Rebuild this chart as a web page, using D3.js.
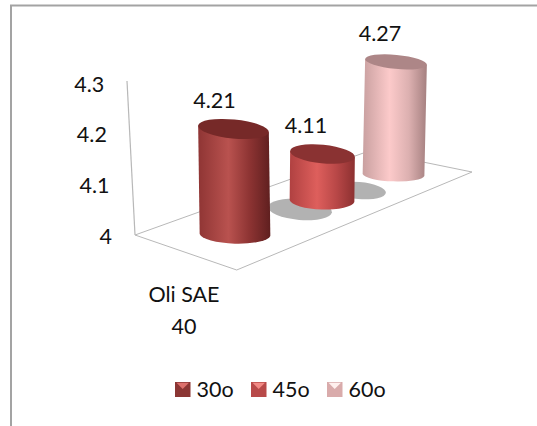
<!DOCTYPE html>
<html>
<head>
<meta charset="utf-8">
<script src="https://cdn.jsdelivr.net/npm/d3@7"></script>
<style>
html,body{margin:0;padding:0;background:#fff}
svg{display:block}
text{font-family:Lato,"Open Sans",sans-serif;fill:#111}
</style>
</head>
<body>
<svg id="chart" width="537" height="426"></svg>
<script>
// Chart values
const categoryLines = ["Oli SAE", "40"];
const seriesNames = ["30o", "45o", "60o"];
const seriesValues = [4.21, 4.11, 4.27];
const tickValues = [4, 4.1, 4.2, 4.3];

// Colour stops: cylinder wall left / highlight / shade / right, lid, legend swatch
const wallColours = [
  ["#8f3534", "#b9524f", "#8c3332", "#5f1f1f"],
  ["#b04141", "#de5f5c", "#b84747", "#8c3030"],
  ["#c9a0a0", "#fccaca", "#dcb0b0", "#a58080"]
];
const lidColours = ["#762928", "#8a3232", "#ad8687"];
const swatchColours = [["#8b3634", "#dc706c"], ["#b84a49", "#f28a85"], ["#d9abab", "#fff0ee"]];

const svg = d3.select("#chart");
const defs = svg.append("defs");
const fontSize = 21.5;

// Frame around the chart area (open on the right and at the bottom)
svg.append("path").attr("d", "M11,426V5.5H537").attr("fill", "none")
  .attr("stroke", "#a3a3a3").attr("stroke-width", 2);

// Value axis on the slanted back edge of the 3D box
const y = d3.scaleLinear().domain([4, 4.3]).range([236, 84]);
const axisX = d3.scaleLinear().domain([4, 4.3]).range([135, 127.3]);
const axisG = svg.append("g").call(
  d3.axisLeft(y).tickValues(tickValues).tickSize(0).tickFormat(d3.format("~g"))
);
axisG.select(".domain").remove();
axisG.selectAll(".tick").attr("transform", d => `translate(${axisX(d) - 23},${y(d)})`);
axisG.selectAll("text").attr("x", 0).attr("dy", "0.35em")
  .style("font-size", fontSize + "px").style("font-family", "Lato").attr("fill", "#111");

// 3D box: wall edge and floor outline
const boxLine = "#b8b8b8";
svg.append("line").attr("x1", axisX(4)).attr("y1", 235).attr("x2", 127).attr("y2", 81)
  .attr("stroke", boxLine).attr("stroke-width", 1.2);
svg.append("path").attr("d", "M135,235L236.7,270L472,172L369,151Z")
  .attr("fill", "none").attr("stroke", boxLine).attr("stroke-width", 1);

// Depth-dependent placement of the cylinders along the floor
const depth = d3.scaleOrdinal().domain(seriesNames).range([0, 1, 2]);
const baseX = d3.scaleLinear().domain([0, 1, 2]).range([235, 322, 393.5]);
const baseY = d3.scaleLinear().domain([0, 1, 2]).range([235, 201, 175]);
const lean = d3.scaleLinear().domain([0, 1, 2]).range([-1.5, 0.5, 2.5]);
const radiusX = d3.scaleLinear().domain([0, 1, 2]).range([35.5, 32.5, 31]);
const radiusY = d3.scaleLinear().domain([0, 1, 2]).range([9.5, 9.3, 7]);
const pxPerUnit = d3.scaleLinear().domain([0, 1, 2]).range([505, 427, 419]);
const labelDx = d3.scaleLinear().domain([0, 1, 2]).range([-19, -16.5, -16]);
const tilt = 5.5 * Math.PI / 180;

const bars = seriesNames.map((name, i) => {
  const d = depth(name);
  return {
    name, i, value: seriesValues[i],
    bx: baseX(d), by: baseY(d),
    tx: baseX(d) + lean(d),
    ty: baseY(d) - (seriesValues[i] - y.domain()[0]) * pxPerUnit(d),
    rx: radiusX(d), ry: radiusY(d), d
  };
});

// Floor shadows cast behind the two nearer cylinders
const shadowGroup = svg.append("g").attr("fill", "#b2b2b2");
bars.slice(0, 2).forEach(b => {
  const dx = b.i === 0 ? 65 : 37, dy = b.i === 0 ? -25.5 : -10.5;
  shadowGroup.append("ellipse")
    .attr("cx", 0).attr("cy", 0)
    .attr("rx", b.i === 0 ? 32 : 27).attr("ry", b.i === 0 ? 10.5 : 8.5)
    .attr("transform", `translate(${b.bx + dx},${b.by + dy}) rotate(5)`);
});

// Cylinders, back to front
bars.slice().reverse().forEach(b => {
  const grad = defs.append("linearGradient").attr("id", "wall" + b.i);
  [0, 0.42, 0.72, 1].forEach((o, k) =>
    grad.append("stop").attr("offset", o).attr("stop-color", wallColours[b.i][k]));

  const cos = Math.cos(tilt), sin = Math.sin(tilt), deg = tilt * 180 / Math.PI;
  const lx = b.tx - b.rx * cos, ly = b.ty - b.rx * sin;
  const rx = b.tx + b.rx * cos, ry = b.ty + b.rx * sin;
  const blx = b.bx - b.rx * cos, bly = b.by - b.rx * sin * 0.3;
  const brx = b.bx + b.rx * cos, bry = b.by + b.rx * sin * 0.3;

  svg.append("path")
    .attr("d", `M${lx},${ly}L${blx},${bly}A${b.rx},${b.ry} ${deg * 0.3} 0 0 ${brx},${bry}L${rx},${ry}Z`)
    .attr("fill", `url(#wall${b.i})`);
  svg.append("ellipse")
    .attr("rx", b.rx).attr("ry", b.ry)
    .attr("transform", `translate(${b.tx},${b.ty}) rotate(${deg})`)
    .attr("fill", lidColours[b.i]);
  svg.append("text")
    .attr("x", b.tx + labelDx(b.d)).attr("y", b.ty - 21)
    .attr("text-anchor", "middle").style("font-size", fontSize + "px")
    .text(b.value.toFixed(2));
});

// Category label, two lines
const catText = svg.append("text").attr("text-anchor", "middle").style("font-size", fontSize + "px");
categoryLines.forEach((line, i) => {
  catText.append("tspan").attr("x", 184).attr("y", 302 + i * 32).text(line);
});

// Legend
const legendX = d3.scalePoint().domain(seriesNames).range([175, 327]);
const legend = svg.append("g").selectAll("g").data(seriesNames).join("g")
  .attr("transform", d => `translate(${legendX(d)},382)`);
legend.append("rect").attr("width", 15.5).attr("height", 15)
  .attr("fill", (d, i) => swatchColours[i][0]);
legend.append("path").attr("d", "M1.5,0.8H14L7.7,7Z")
  .attr("fill", (d, i) => swatchColours[i][1]);
legend.append("text").attr("x", 21.5).attr("y", 14.5)
  .style("font-size", fontSize + "px").text(d => d);
</script>
</body>
</html>
